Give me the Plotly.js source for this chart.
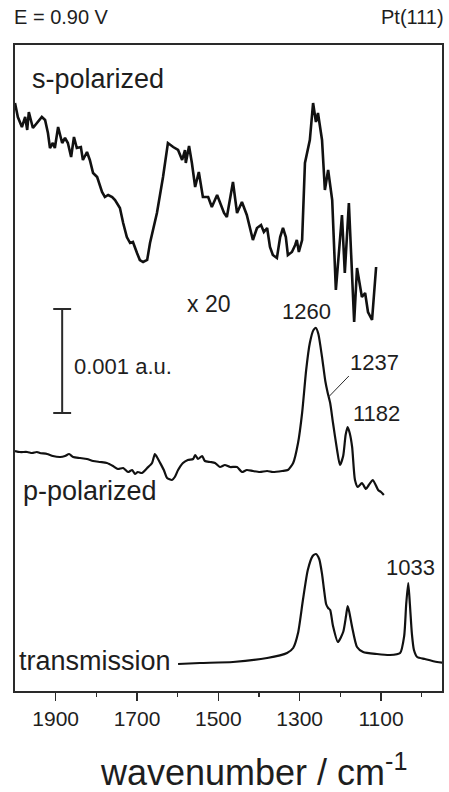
<!DOCTYPE html>
<html>
<head>
<meta charset="utf-8">
<script src="https://cdn.plot.ly/plotly-3.0.1.min.js"></script>
<style>
  html, body { margin: 0; padding: 0; background: #ffffff; }
  #chart { width: 449px; height: 792px; }
</style>
</head>
<body>
<div id="chart"></div>
<script>
// s-polarized spectrum (shown x20), arbitrary units
const sWavenumber = [2000, 1993, 1983, 1975, 1970, 1966, 1956, 1946, 1934, 1926, 1919, 1914, 1907, 1902, 1894, 1884, 1877, 1870, 1862, 1855, 1848, 1838, 1833, 1823, 1816, 1808, 1798, 1786, 1779, 1771, 1761, 1754, 1742, 1734, 1725, 1717, 1710, 1700, 1693, 1685, 1675, 1668, 1651, 1636, 1624, 1611, 1599, 1589, 1582, 1580, 1572, 1565, 1557, 1548, 1538, 1525, 1516, 1503, 1496, 1491, 1486, 1479, 1474, 1464, 1454, 1442, 1430, 1415, 1405, 1395, 1388, 1380, 1373, 1366, 1356, 1348, 1341, 1334, 1329, 1319, 1311, 1307, 1302, 1294, 1287, 1275, 1267, 1260, 1255, 1245, 1238, 1230, 1220, 1211, 1196, 1189, 1179, 1166, 1159, 1147, 1139, 1132, 1122, 1112];
const sSignal = [188, 174, 164, 174, 161, 179, 163, 168, 174, 171, 158, 143, 148, 143, 164, 148, 153, 148, 134, 154, 143, 144, 131, 139, 131, 118, 114, 99, 94, 96, 94, 91, 83, 68, 54, 48, 49, 38, 31, 29, 31, 48, 78, 114, 148, 144, 141, 131, 141, 128, 145, 128, 104, 119, 94, 94, 84, 96, 88, 84, 78, 74, 86, 109, 78, 89, 76, 51, 63, 66, 59, 63, 44, 36, 33, 54, 63, 54, 36, 39, 46, 51, 39, 51, 128, 151, 188, 169, 178, 151, 101, 121, 91, 1, 76, 18, 88, -31, 23, -6, -2, -21, -29, 24];

// p-polarized spectrum, arbitrary units
const pWavenumber = [2000, 1988, 1970, 1958, 1946, 1939, 1921, 1907, 1889, 1877, 1867, 1857, 1840, 1823, 1808, 1791, 1774, 1759, 1747, 1734, 1722, 1712, 1705, 1698, 1688, 1675, 1663, 1656, 1651, 1643, 1634, 1626, 1614, 1607, 1599, 1587, 1575, 1562, 1557, 1550, 1540, 1533, 1520, 1508, 1496, 1484, 1471, 1454, 1442, 1430, 1415, 1398, 1380, 1366, 1343, 1329, 1316, 1304, 1294, 1284, 1275, 1266, 1260, 1254, 1245, 1237, 1231, 1225, 1218, 1208, 1201, 1193, 1187, 1182, 1177, 1171, 1164, 1157, 1147, 1137, 1130, 1120, 1107, 1100, 1093];
const pSignal = [10, 9, 9, 8, 9, 8, 7, 5, 4, 5, 7, 4, 3, 2, 0, -1, -2, -5, -8, -7, -11, -9, -13, -11, -12, -7, -2, 7, 4, -2, -9, -17, -19, -16, -9, -2, 1, 2, 6, 2, 5, 0, -1, -2, -6, -4, -6, -6, -11, -9, -10, -11, -10, -11, -10, -9, -2, 18, 48, 91, 118, 131, 133, 127, 104, 80, 68, 58, 38, 11, -4, 5, 26, 34, 28, 14, -19, -26, -22, -28, -24, -19, -29, -31, -34];

// transmission spectrum, arbitrary units
const tWavenumber = [1599, 1545, 1464, 1380, 1331, 1316, 1304, 1292, 1280, 1268, 1260, 1252, 1245, 1240, 1235, 1230, 1225, 1218, 1206, 1193, 1186, 1182, 1178, 1171, 1159, 1144, 1110, 1078, 1053, 1043, 1038, 1033, 1029, 1024, 1019, 1011, 992, 962, 945];
const tSignal = [0, 1, 2, 6, 11, 16, 31, 64, 94, 108, 110, 105, 90, 74, 60, 56, 54, 38, 22, 32, 48, 58, 52, 37, 17, 12, 10, 9, 11, 28, 60, 81, 60, 30, 14, 7, 5, 2, 1];

// x axis ticks
const majorTicks = [1900, 1700, 1500, 1300, 1100];
const majorTickText = ['1900', '1700', '1500', '1300', '1100'];
const minorTicks = [1800, 1600, 1400, 1200, 1000];

// band assignments
const bandLabels = ['1260', '1237', '1182', '1033'];

// vertical stacking of the three spectra
const OFFSET_S = 400, OFFSET_P = 230, OFFSET_T = 27;
const SCALE_BAR = 104;   // height of the 0.001 a.u. bar in plot units

const INK = '#111111';
const TEXT = '#1e1e1e';
const FRAME = '#2a2a2a';
const SANS = 'Liberation Sans, Arial, sans-serif';

// plot area in page pixels
const PL = 15, PR = 442, PT = 45, PB = 691;
const px = (x) => (x - PL) / (PR - PL);
const py = (y) => (PB - y) / (PB - PT);

function shift(values, off) { return values.map(v => v + off); }

function spectrum(x, y, off, smooth) {
  return {
    type: 'scatter', mode: 'lines', x: x, y: shift(y, off),
    line: smooth ? { color: INK, width: 2.2, shape: 'spline', smoothing: 0.6 }
                 : { color: INK, width: 2.6, shape: 'linear' },
    hoverinfo: 'skip', showlegend: false
  };
}

const traces = [
  spectrum(sWavenumber, sSignal, OFFSET_S, false),
  spectrum(pWavenumber, pSignal, OFFSET_P, true),
  spectrum(tWavenumber, tSignal, OFFSET_T, true)
];

function label(text, x, y, size, anchor) {
  return {
    text: text, xref: 'paper', yref: 'paper', x: px(x), y: py(y),
    xanchor: anchor || 'center', yanchor: 'middle', showarrow: false,
    font: { family: SANS, size: size, color: TEXT }
  };
}

const annotations = [
  label('E = 0.90 V', 12, 17, 20, 'left'),
  label('Pt(111)', 446, 17, 20, 'right'),
  label('s-polarized', 30, 79, 27, 'left'),
  label('x 20', 208, 304, 23),
  label('0.001 a.u.', 72, 366, 22, 'left'),
  label('p-polarized', 21, 491, 27, 'left'),
  label('transmission', 17, 661, 27, 'left'),
  label(bandLabels[0], 306, 311, 22),
  label(bandLabels[1], 374, 362, 22),
  label(bandLabels[2], 376, 414, 22),
  label(bandLabels[3], 410, 567, 22),
  // x axis title
  label('wavenumber / cm<sup>-1</sup>', 254, 770, 36)
];

// scale bar and leader line, in data coordinates
const barX = 1884, barHalf = 22, barLow = 278;
const shapes = [
  { type: 'line', xref: 'x', yref: 'y', x0: barX, x1: barX, y0: barLow, y1: barLow + SCALE_BAR,
    line: { color: FRAME, width: 2 } },
  { type: 'line', xref: 'x', yref: 'y', x0: barX + barHalf, x1: barX - barHalf, y0: barLow, y1: barLow,
    line: { color: FRAME, width: 2 } },
  { type: 'line', xref: 'x', yref: 'y', x0: barX + barHalf, x1: barX - barHalf, y0: barLow + SCALE_BAR, y1: barLow + SCALE_BAR,
    line: { color: FRAME, width: 2 } },
  { type: 'line', xref: 'x', yref: 'y', x0: 1179, x1: 1229, y0: OFFSET_P + 85, y1: OFFSET_P + 64,
    line: { color: FRAME, width: 1 } }
];

const layout = {
  width: 449, height: 792,
  margin: { l: PL, r: 449 - PR, t: PT, b: 792 - PB, pad: 0 },
  paper_bgcolor: '#ffffff', plot_bgcolor: '#ffffff',
  showlegend: false,
  xaxis: {
    range: [2000, 950],
    tickmode: 'array', tickvals: majorTicks, ticktext: majorTickText,
    ticks: 'outside', ticklen: 8, tickwidth: 1.5, tickcolor: FRAME,
    minor: { tickmode: 'array', tickvals: minorTicks, ticks: 'outside', ticklen: 4, tickwidth: 1.5, tickcolor: FRAME, showgrid: false },
    showline: true, linecolor: FRAME, linewidth: 1.6, mirror: true,
    showgrid: false, zeroline: false,
    tickfont: { family: SANS, size: 21, color: TEXT }
  },
  yaxis: {
    range: [0, PB - PT],
    showline: true, linecolor: FRAME, linewidth: 1.6, mirror: true,
    showticklabels: false, ticks: '', showgrid: false, zeroline: false
  },
  annotations: annotations,
  shapes: shapes
};

Plotly.newPlot('chart', traces, layout, { staticPlot: true, displayModeBar: false });
</script>
</body>
</html>
